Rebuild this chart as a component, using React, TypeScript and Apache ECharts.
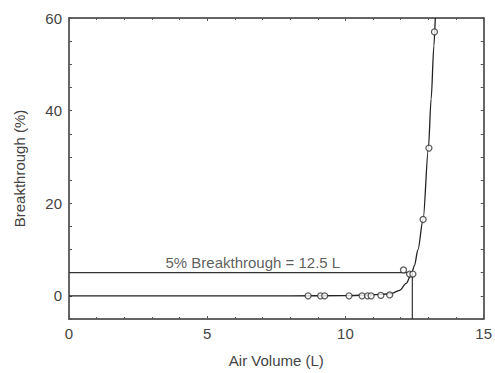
import React, { useEffect, useRef } from "react";
import * as echarts from "echarts";

const curveX = [0, 8, 10, 11, 11.5, 11.66, 11.96, 12.2, 12.39, 12.5, 12.62, 12.81, 13.0, 13.1, 13.2, 13.25];
const curveY = [0, 0, 0.05, 0.2, 0.4, 0.5, 1.2, 2.7, 4.8, 6.6, 9.9, 16.5, 31.8, 42.5, 54, 60];
const pointX = [8.65, 9.1, 9.25, 10.13, 10.6, 10.8, 10.93, 11.28, 11.6, 12.1, 12.32, 12.44, 12.81, 13.02, 13.22];
const pointY = [0, 0, 0, 0, 0, 0, 0, 0.1, 0.2, 5.6, 4.7, 4.7, 16.5, 31.9, 57];
const refX = [0, 12.42, 12.42];
const refY = [5, 5, -5];
const yLabels = [0, 20, 40, 60];
const yTicks = [-5, 0, 5, 10, 15, 20, 25, 30, 35, 40, 45, 50, 55, 60];
const annotation = "5% Breakthrough = 12.5 L";

export default function App() {
  const ref = useRef<HTMLDivElement>(null);
  useEffect(() => {
    if (!ref.current) return;
    const chart = echarts.init(ref.current, null, { renderer: "svg" });
    const font = "Liberation Sans";
    const lineCol = "#333";
    const tickCol = "#555";
    const textCol = "#444";
    const fs = 15;
    const xAxisBase = {
      type: "value",
      min: 0,
      max: 15,
      interval: 5,
      splitLine: { show: false },
      axisLine: { show: true, onZero: false, lineStyle: { color: lineCol, width: 1.5 } },
      axisTick: { show: true, inside: true, length: 3, lineStyle: { color: tickCol } },
      minorTick: { show: true, splitNumber: 5, length: 2, lineStyle: { color: tickCol } },
    };
    const yAxisBase = {
      type: "value",
      min: -5,
      max: 60,
      splitLine: { show: false },
      axisLine: { show: true, onZero: false, lineStyle: { color: lineCol, width: 1.5 } },
      axisTick: { show: true, inside: true, length: 3, customValues: yTicks, lineStyle: { color: tickCol } },
    };
    chart.setOption({
      animation: false,
      grid: { left: 69, right: 11, top: 18, bottom: 54, containLabel: false },
      xAxis: [
        {
          ...xAxisBase,
          position: "bottom",
          name: "Air Volume (L)",
          nameLocation: "middle",
          nameGap: 34,
          nameTextStyle: { fontFamily: font, fontSize: fs, color: textCol },
          axisLabel: { fontFamily: font, fontSize: fs, color: textCol, margin: 7 },
        },
        { ...xAxisBase, position: "top", axisLabel: { show: false } },
      ],
      yAxis: [
        {
          ...yAxisBase,
          position: "left",
          name: "Breakthrough (%)",
          nameLocation: "middle",
          nameGap: 42,
          nameTextStyle: { fontFamily: font, fontSize: fs, color: textCol },
          axisLabel: { fontFamily: font, fontSize: fs, color: textCol, margin: 7, customValues: yLabels },
        },
        { ...yAxisBase, position: "right", axisLabel: { show: false } },
      ],
      series: [
        {
          type: "line",
          data: curveX.map((x, i) => [x, curveY[i]]),
          smooth: 0.3,
          smoothMonotone: "x",
          showSymbol: false,
          symbol: "none",
          lineStyle: { color: "#222", width: 1.3 },
          z: 2,
        },
        {
          type: "line",
          data: refX.map((x, i) => [x, refY[i]]),
          showSymbol: false,
          symbol: "none",
          lineStyle: { color: "#333", width: 1.2 },
          z: 1,
        },
        {
          type: "scatter",
          data: pointX.map((x, i) => [x, pointY[i]]),
          symbol: "circle",
          symbolSize: 6,
          itemStyle: { color: "#fff", borderColor: "#333", borderWidth: 1.3 },
          z: 3,
        },
        {
          type: "scatter",
          data: [[6.65, 7.3]],
          symbolSize: 0,
          label: {
            show: true,
            position: "inside",
            formatter: annotation,
            fontFamily: font,
            fontSize: fs,
            color: "#333",
          },
          silent: true,
          z: 4,
        },
      ],
    });
    return () => chart.dispose();
  }, []);
  return (
    <div
      ref={ref}
      style={{ position: "fixed", left: 0, top: 0, width: 495, height: 373, background: "#fff" }}
    />
  );
}
